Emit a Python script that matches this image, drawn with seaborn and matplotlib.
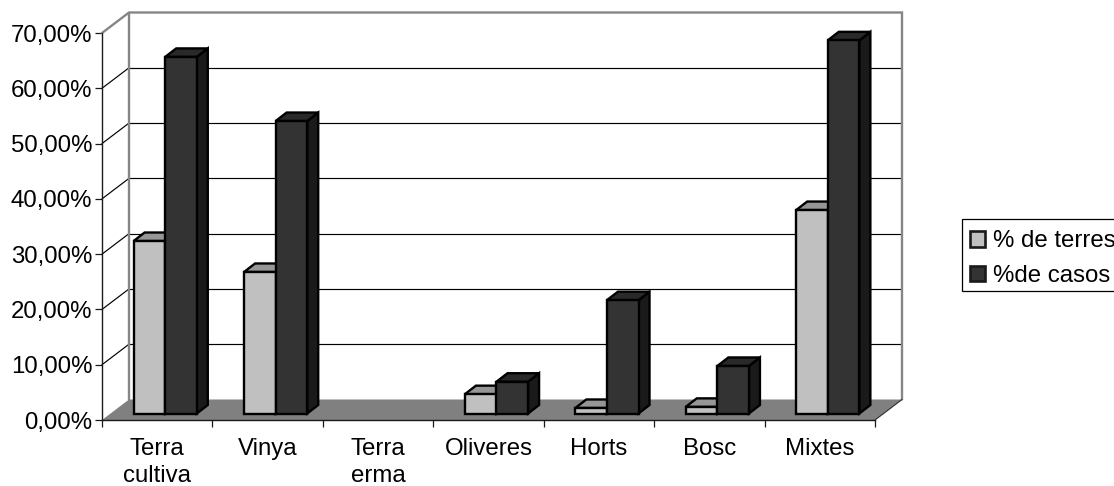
import numpy as np
import pandas as pd
import matplotlib
matplotlib.use("Agg")
import matplotlib.pyplot as plt
from matplotlib.patches import Polygon, Rectangle
from matplotlib.lines import Line2D
from matplotlib.transforms import Affine2D, IdentityTransform
import seaborn as sns

categories = ["Terra\ncultiva", "Vinya", "Terra\nerma", "Oliveres", "Horts", "Bosc", "Mixtes"]
pct_terres = [31.2, 25.6, 0.0, 3.5, 1.0, 1.2, 36.8]
pct_casos = [64.5, 52.9, 0.0, 5.75, 20.5, 8.6, 67.5]
series_names = ["% de terres", "%de casos"]
y_ticks = [0, 10, 20, 30, 40, 50, 60, 70]

W, H = 1114, 486
sns.set_theme(style="white")
plt.rcParams["font.family"] = ["Liberation Sans", "DejaVu Sans"]
FS = 17.3
EDGE = 1.7

df = pd.DataFrame({
    "cat": categories * 2,
    "val": pct_terres + pct_casos,
    "serie": [series_names[0]] * 7 + [series_names[1]] * 7,
})

fig = plt.figure(figsize=(W / 100, H / 100), dpi=100, facecolor="white")
ax = fig.add_axes([102 / W, (H - 420) / H, 773 / W, 387 / H])
ax.patch.set_alpha(0)

LIGHT, DARK = "#C0C0C0", "#333333"
sns.barplot(data=df, x="cat", y="val", hue="serie", palette=[LIGHT, DARK],
            width=0.572, gap=0, saturation=1, edgecolor="black", linewidth=EDGE,
            ax=ax, legend=True, zorder=3)
ax.set_xlim(-0.5, 6.5)
ax.set_ylim(0, 70)
ax.set_autoscale_on(False)
ax.set_xlabel("")
ax.set_ylabel("")

# geometry of the pseudo-3D box, in pixels
DX, DY = 27, 20.5          # wall depth
SX, SY = 8, 6.5            # bars sit part-way into the floor
BX, BY = 11, 8.5           # bar depth
px = ax.transData.transform
ident = IdentityTransform()
x0d, x1d = -0.5, 6.5
(xl, yb), (xr, yt) = px((x0d, 0)), px((x1d, 70))

# floor
ax.add_patch(Polygon([(xl, yb), (xr, yb), (xr + DX, yb + DY), (xl + DX, yb + DY)],
                     closed=True, facecolor="#808080", edgecolor="none",
                     transform=ident, zorder=1, clip_on=False))
# gridlines on back wall and their return on left wall
back = ax.transData + Affine2D().translate(DX, DY)
ax.hlines(y_ticks[1:-1], x0d, x1d, colors="black", linewidth=0.85, transform=back, zorder=1.5, clip_on=False)
for v in y_ticks[1:-1]:
    _, yy = px((x0d, v))
    ax.add_line(Line2D([xl, xl + DX], [yy, yy + DY], color="black", lw=0.85,
                       transform=ident, zorder=1.5, clip_on=False))
# wall outline
WALL = "#868686"
ax.add_line(Line2D([xl, xl + DX, xr + DX, xr + DX], [yt, yt + DY, yt + DY, yb + DY],
                   color=WALL, lw=1.7, transform=ident, zorder=1.6, clip_on=False,
                   solid_joinstyle="miter"))
ax.add_line(Line2D([xl + DX, xl + DX], [yb + DY, yt + DY], color=WALL, lw=1.7,
                   transform=ident, zorder=1.6, clip_on=False))
ax.add_line(Line2D([xr, xr + DX], [yb, yb + DY], color="#333333", lw=0.85,
                   transform=ident, zorder=1.6, clip_on=False))

# bars: shift fronts into the floor and add top and side faces
faces = {LIGHT: ("#969696", "#606060"), DARK: ("#292929", "#1A1A1A")}
shift = ax.transData + Affine2D().translate(SX, SY)
bars = [p for c in ax.containers for p in c]
n_per = len(categories)
for i, bar in enumerate(bars):
    light = i < n_per
    z = 3 if light else 4
    bar.set_zorder(z + 0.2)
    bar.set_clip_on(False)
    if bar.get_height() <= 0:
        bar.set_visible(False)
        continue
    bar.set_transform(shift)
    a = px((bar.get_x(), 0)) + (SX, SY)
    b = px((bar.get_x() + bar.get_width(), bar.get_height())) + (SX, SY)
    top_c, side_c = faces[LIGHT if light else DARK]
    ax.add_patch(Polygon([(b[0], a[1]), (b[0] + BX, a[1] + BY), (b[0] + BX, b[1] + BY), (b[0], b[1])],
                         closed=True, facecolor=side_c, edgecolor="black", linewidth=EDGE,
                         transform=ident, zorder=z, clip_on=False, joinstyle="miter"))
    ax.add_patch(Polygon([(a[0], b[1]), (b[0], b[1]), (b[0] + BX, b[1] + BY), (a[0] + BX, b[1] + BY)],
                         closed=True, facecolor=top_c, edgecolor="black", linewidth=EDGE,
                         transform=ident, zorder=z, clip_on=False, joinstyle="miter"))

# axes
for s in ("top", "right"):
    ax.spines[s].set_visible(False)
for s in ("left", "bottom"):
    ax.spines[s].set_visible(True)
    ax.spines[s].set_color("#1A1A1A")
    ax.spines[s].set_linewidth(1.0)
    ax.spines[s].set_zorder(6)
ax.set_yticks(y_ticks)
ax.set_yticklabels([f"{v:.2f}%".replace(".", ",") for v in y_ticks], fontsize=FS, color="black")
ax.set_xticks(np.arange(len(categories) + 1) - 0.5)
ax.set_xticklabels([])
ax.set_xticks(np.arange(len(categories)), minor=True)
ax.set_xticklabels(categories, minor=True, fontsize=FS, color="black", linespacing=1.32)
ax.tick_params(axis="y", which="major", left=True, length=5, width=0.9, color="#1A1A1A", pad=2)
ax.tick_params(axis="x", which="major", bottom=True, length=5, width=0.9, color="#1A1A1A")
ax.tick_params(axis="x", which="minor", bottom=False, length=0, pad=13)

# legend: box frame drawn apart so that the text can sit as in the reference
fig.add_artist(Rectangle((962 / W, (H - 291) / H), 170 / W, 72 / H, transform=fig.transFigure,
                         facecolor="white", edgecolor="black", linewidth=0.9, zorder=5))
leg = ax.legend(title=None, loc="upper left", fontsize=FS,
                bbox_to_anchor=(962 / W, (H - 222) / H), bbox_transform=fig.transFigure,
                frameon=False, borderpad=0.35, borderaxespad=0, handlelength=0.62, handleheight=0.62,
                handletextpad=0.32, labelspacing=0.52, labelcolor="black")
leg.set_zorder(10)
leg.remove()
fig.add_artist(leg)
leg.set_zorder(10)
for h in leg.get_patches():
    h.set_edgecolor("#1A1A1A")
    h.set_linewidth(1.9)

fig.savefig("out.png", dpi=100)
